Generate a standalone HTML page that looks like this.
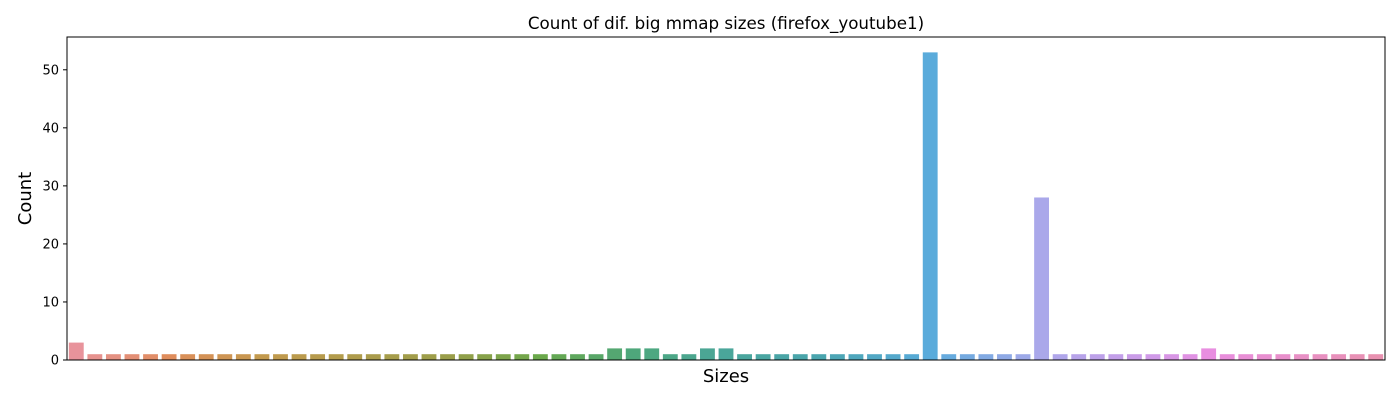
<!DOCTYPE html>
<html><head><meta charset="utf-8"><style>
body{margin:0;background:#fff;font-family:"DejaVu Sans","Liberation Sans",sans-serif;}
</style></head><body>
<svg id="chart" width="1400" height="400" xmlns="http://www.w3.org/2000/svg" font-family="DejaVu Sans, Liberation Sans, sans-serif"></svg>
<script>
const values = [3,1,1,1,1,1,1,1,1,1,1,1,1,1,1,1,1,1,1,1,1,1,1,1,1,1,1,1,1,2,2,2,1,1,2,2,1,1,1,1,1,1,1,1,1,1,53,1,1,1,1,1,28,1,1,1,1,1,1,1,1,2,1,1,1,1,1,1,1,1,1];
const yTicks = [0,10,20,30,40,50];
const anchorIdx = [0,5,10,20,25,30,35,40,46,52,58,61,70];
const anchorCol = ["#e8939b","#df8d5c","#c39a4e","#9a9e4a","#6aa84b","#4ea77b","#4aa69a","#4aa5ae","#5aabdb","#aaa8ea","#d09ae8","#e88ee0","#e891b0"];
const NS="http://www.w3.org/2000/svg";
const svg=document.getElementById('chart');
const L=67,R=1385,T=37,B=360;
const yMax=Math.max(...values)*1.05;
const n=values.length, bw=(R-L)/n;
const xs=i=>L+bw*i;
const ys=v=>B-(v/yMax)*(B-T);
function hex(h){return [1,3,5].map(k=>parseInt(h.substr(k,2),16));}
function color(i){
  for(let k=0;k<anchorIdx.length-1;k++){
    if(i>=anchorIdx[k]&&i<=anchorIdx[k+1]){
      const t=(i-anchorIdx[k])/(anchorIdx[k+1]-anchorIdx[k]);
      const a=hex(anchorCol[k]),b=hex(anchorCol[k+1]);
      return 'rgb('+a.map((c,j)=>Math.round(c+(b[j]-c)*t)).join(',')+')';
    }
  }
  return anchorCol[anchorCol.length-1];
}
function mk(tag,attrs,text){const e=document.createElementNS(NS,tag);for(const k in attrs)e.setAttribute(k,attrs[k]);if(text!==undefined)e.textContent=text;svg.appendChild(e);return e;}
values.forEach((v,i)=>{
  const r=mk('rect',{x:xs(i)+bw*0.1,y:ys(v),width:bw*0.8,height:B-ys(v),fill:color(i)});
  
  
});
yTicks.forEach(t=>{
  const y=ys(t);
  const l=mk('line',{x1:L-4,x2:L,y1:y,y2:y,stroke:'#000','stroke-width':1});
  
  
  const tx=mk('text',{x:L-8,y:y+4.5,'text-anchor':'end','font-size':13,fill:'#000'},String(t));
  
  
});
const fr=mk('rect',{x:L,y:T,width:R-L,height:B-T,fill:'none',stroke:'#000','stroke-width':1});


const ti=mk('text',{x:(L+R)/2,y:29,'text-anchor':'middle','font-size':16.7,fill:'#000'},'Count of dif. big mmap sizes (firefox_youtube1)');


const xl=mk('text',{x:(L+R)/2,y:382,'text-anchor':'middle','font-size':18,fill:'#000'},'Sizes');


const yl=mk('text',{x:31,y:(T+B)/2,'text-anchor':'middle','font-size':18,fill:'#000',transform:'rotate(-90 31 '+((T+B)/2)+')'},'Count');


</script>
</body></html>
